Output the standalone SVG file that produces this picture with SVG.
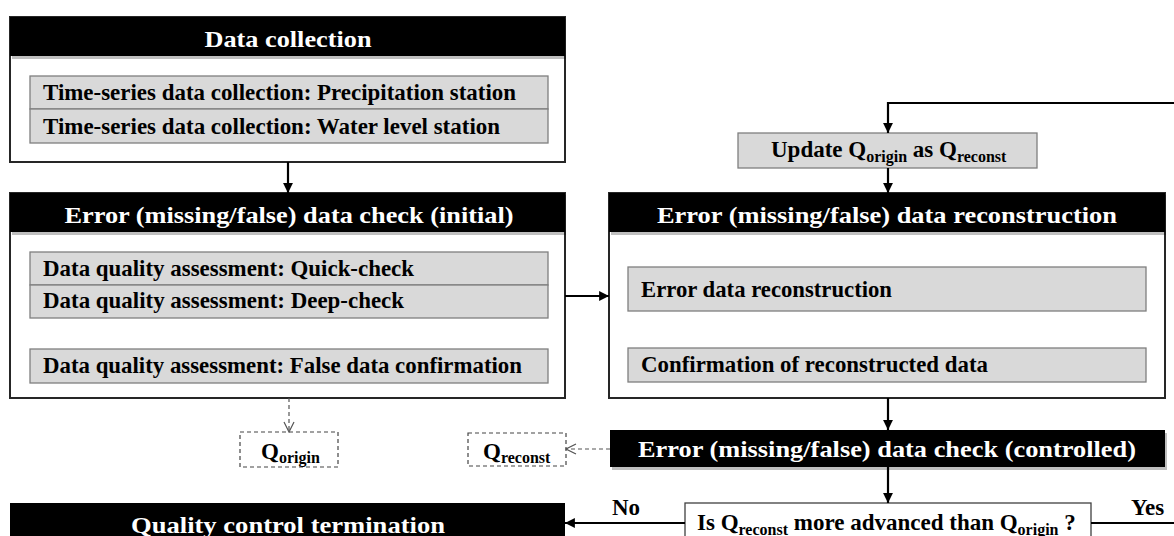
<svg xmlns="http://www.w3.org/2000/svg" width="1174" height="536" viewBox="0 0 1174 536">
<defs>
<style>
.box{fill:#fff;stroke:#262626;stroke-width:2}
.hdr{fill:#000}
.shd{fill:#000;opacity:0.25}
.row{fill:#d9d9d9;stroke:#7f7f7f;stroke-width:1.3}
.qbox{fill:#fff;stroke:#444;stroke-width:1.2;stroke-dasharray:4 3}
.dec{fill:#fff;stroke:#404040;stroke-width:1.3}
text{font-family:"Liberation Serif","Times New Roman",serif;font-weight:bold;font-size:23px}
.ht{fill:#fff;text-anchor:middle}
.rt{fill:#000}
.sub{font-size:16px}
.ln{fill:none;stroke:#000;stroke-width:2.2}
.dl{fill:none;stroke:#555;stroke-width:1.2;stroke-dasharray:4 3}
</style>
<marker id="ah" viewBox="0 0 10 10" refX="10" refY="5" markerWidth="4.5" markerHeight="4.5" markerUnits="strokeWidth" orient="auto">
<path d="M0,0 L10,5 L0,10 z" fill="#000"/>
</marker>
<marker id="oh" viewBox="0 0 12 12" refX="11" refY="6" markerWidth="10" markerHeight="10" markerUnits="strokeWidth" orient="auto">
<path d="M1,1 L11,6 L1,11" fill="none" stroke="#555" stroke-width="1.2"/>
</marker>
</defs>
<rect width="1174" height="536" fill="#fff"/>

<g id="data-collection">
<rect class="box" x="10" y="17" width="555" height="145"/>
<rect class="shd" x="12" y="19" width="554" height="40"/>
<rect class="hdr" x="10" y="17" width="555" height="39"/>
<text class="ht" x="288" y="47" textLength="167" lengthAdjust="spacingAndGlyphs">Data collection</text>
<rect class="row" x="30" y="76" width="518" height="33"/>
<rect class="row" x="30" y="109" width="518" height="34"/>
<text class="rt" x="43" y="100" textLength="473" lengthAdjust="spacingAndGlyphs">Time-series data collection: Precipitation station</text>
<text class="rt" x="43" y="134" textLength="457" lengthAdjust="spacingAndGlyphs">Time-series data collection: Water level station</text>
</g>

<g id="error-check-initial">
<rect class="box" x="10" y="193" width="555" height="205"/>
<rect class="shd" x="12" y="195" width="554" height="40"/>
<rect class="hdr" x="10" y="193" width="555" height="39"/>
<text class="ht" x="289" y="223" textLength="449" lengthAdjust="spacingAndGlyphs">Error (missing/false) data check (initial)</text>
<rect class="row" x="30" y="252" width="518" height="33"/>
<rect class="row" x="30" y="285" width="518" height="33"/>
<rect class="row" x="30" y="349" width="518" height="34"/>
<text class="rt" x="43" y="276" textLength="371" lengthAdjust="spacingAndGlyphs">Data quality assessment: Quick-check</text>
<text class="rt" x="43" y="308" textLength="361" lengthAdjust="spacingAndGlyphs">Data quality assessment: Deep-check</text>
<text class="rt" x="43" y="373" textLength="479" lengthAdjust="spacingAndGlyphs">Data quality assessment: False data confirmation</text>
</g>

<g id="update">
<rect class="row" x="738" y="133" width="299" height="35"/>
<text class="rt" x="771" y="157">Update Q<tspan class="sub" dy="5">origin</tspan><tspan dy="-5"> as Q</tspan><tspan class="sub" dy="5">reconst</tspan></text>
</g>

<g id="reconstruction">
<rect class="box" x="609" y="193" width="556" height="205"/>
<rect class="shd" x="611" y="195" width="555" height="40"/>
<rect class="hdr" x="609" y="193" width="556" height="39"/>
<text class="ht" x="887" y="223" textLength="460" lengthAdjust="spacingAndGlyphs">Error (missing/false) data reconstruction</text>
<rect class="row" x="628" y="267" width="518" height="44"/>
<rect class="row" x="628" y="348" width="518" height="34"/>
<text class="rt" x="641" y="297" textLength="251" lengthAdjust="spacingAndGlyphs">Error data reconstruction</text>
<text class="rt" x="641" y="372" textLength="347" lengthAdjust="spacingAndGlyphs">Confirmation of reconstructed data</text>
</g>

<g id="q-origin">
<rect class="qbox" x="240" y="432" width="98" height="35"/>
<text class="rt" x="261" y="459">Q<tspan class="sub" dy="4">origin</tspan></text>
</g>

<g id="q-reconst">
<rect class="qbox" x="468" y="433" width="98" height="33"/>
<text class="rt" x="483" y="459">Q<tspan class="sub" dy="4">reconst</tspan></text>
</g>

<g id="error-check-controlled">
<rect class="shd" x="612" y="433" width="555" height="37"/>
<rect class="hdr" x="610" y="430" width="555" height="37"/>
<text class="ht" x="887" y="457" textLength="498" lengthAdjust="spacingAndGlyphs">Error (missing/false) data check (controlled)</text>
</g>

<g id="decision">
<rect class="dec" x="685" y="503" width="406" height="40"/>
<text class="rt" x="697" y="530">Is Q<tspan class="sub" dy="5">reconst</tspan><tspan dy="-5"> more advanced than Q</tspan><tspan class="sub" dy="5">origin</tspan><tspan dy="-5"> ?</tspan></text>
</g>

<g id="termination">
<rect class="hdr" x="10" y="503" width="555" height="40"/>
<text class="ht" x="288" y="533" textLength="314" lengthAdjust="spacingAndGlyphs">Quality control termination</text>
</g>

<g id="connectors">
<path class="ln" d="M288,162 V193" marker-end="url(#ah)"/>
<path class="ln" d="M565,296 H609" marker-end="url(#ah)"/>
<path class="ln" d="M1174,103 H888 V133" marker-end="url(#ah)"/>
<path class="ln" d="M888,168 V193" marker-end="url(#ah)"/>
<path class="ln" d="M888,398 V430" marker-end="url(#ah)"/>
<path class="ln" d="M888,467 V503" marker-end="url(#ah)"/>
<path class="ln" d="M685,523 H565" marker-end="url(#ah)"/>
<path class="ln" d="M1091,523 H1174"/>
<path class="dl" d="M289,398 V432" marker-end="url(#oh)"/>
<path class="dl" d="M610,449 H566" marker-end="url(#oh)"/>
<text class="rt" x="612" y="515">No</text>
<text class="rt" x="1131" y="515">Yes</text>
</g>
</svg>
